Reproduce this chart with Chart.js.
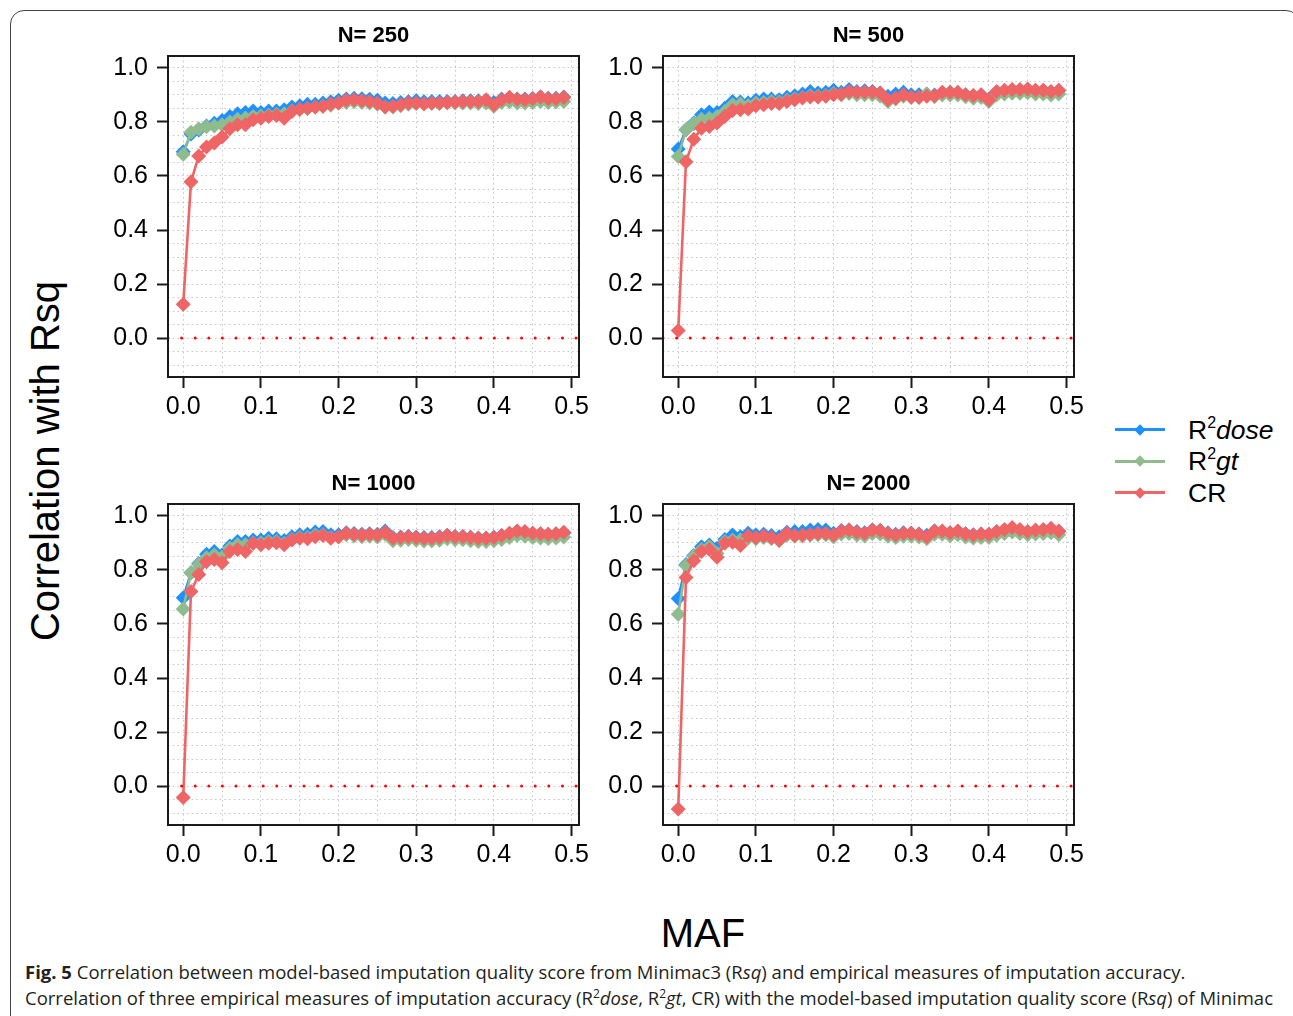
<!DOCTYPE html>
<html>
<head>
<meta charset="utf-8">
<title>Fig. 5</title>
<script src="https://cdn.jsdelivr.net/npm/chart.js@4.4.1/dist/chart.umd.min.js"></script>
<style>
  body { margin: 0; width: 1293px; height: 1016px; overflow: hidden; position: relative; background: #fff;
         font-family: "Liberation Sans", Arial, Helvetica, sans-serif; color: #000; }
  .marco { position: absolute; left: 10px; top: 10px; width: 1290px; height: 1100px;
           border: 1.5px solid #444; border-radius: 14px; box-sizing: border-box; }
  canvas.panel { position: absolute; }
  .eje-y { position: absolute; left: 45px; top: 461px; font-size: 40px; white-space: nowrap;
           transform: translate(-50%, -50%) rotate(-90deg); }
  .eje-x { position: absolute; left: 703px; top: 933px; font-size: 40px; transform: translate(-50%, -50%); }
  .leyenda { position: absolute; left: 1115px; top: 414px; }
  .item { display: flex; align-items: center; height: 31.5px; }
  .muestra { position: relative; width: 50px; height: 3px; margin-right: 23px; }
  .muestra::after { content: ""; position: absolute; left: 21px; top: -2.5px; width: 8px; height: 8px;
                    background: inherit; transform: rotate(45deg); }
  .item span.txt { font-size: 26.5px; line-height: 26px; }
  .item sup { font-size: 16px; vertical-align: 11px; line-height: 0; }
  .pie { position: absolute; left: 25px; top: 959px; width: 1268px; font-family: "Open Sans", sans-serif;
         font-size: 18.5px; line-height: 26px; color: #231f20; white-space: nowrap; }
  .pie sup { font-size: 12px; line-height: 0; vertical-align: 7px; }
</style>
</head>
<body>
<div class="marco"></div>

<canvas id="p250"  class="panel" width="500" height="400" style="left:100px; top:20px;"></canvas>
<canvas id="p500"  class="panel" width="500" height="400" style="left:595px; top:20px;"></canvas>
<canvas id="p1000" class="panel" width="500" height="400" style="left:100px; top:468px;"></canvas>
<canvas id="p2000" class="panel" width="500" height="400" style="left:595px; top:468px;"></canvas>

<div class="eje-y">Correlation with Rsq</div>
<div class="eje-x">MAF</div>

<div class="leyenda">
  <div class="item"><span class="muestra" style="background:#1E90FF"></span><span class="txt">R<sup>2</sup><i>dose</i></span></div>
  <div class="item"><span class="muestra" style="background:#8FBC8F"></span><span class="txt">R<sup>2</sup><i>gt</i></span></div>
  <div class="item"><span class="muestra" style="background:#EF6464"></span><span class="txt">CR</span></div>
</div>

<div class="pie">
  <b>Fig. 5</b> Correlation between model-based imputation quality score from Minimac3 (R<i>sq</i>) and empirical measures of imputation accuracy.<br>
  Correlation of three empirical measures of imputation accuracy (R<sup>2</sup><i>dose</i>, R<sup>2</sup><i>gt</i>, CR) with the model-based imputation quality score (R<i>sq</i>) of Minimac
</div>

<script>
// ---------- DATOS ----------
const MAF = [0.00, 0.01, 0.02, 0.03, 0.04, 0.05, 0.06, 0.07, 0.08, 0.09,
             0.10, 0.11, 0.12, 0.13, 0.14, 0.15, 0.16, 0.17, 0.18, 0.19,
             0.20, 0.21, 0.22, 0.23, 0.24, 0.25, 0.26, 0.27, 0.28, 0.29,
             0.30, 0.31, 0.32, 0.33, 0.34, 0.35, 0.36, 0.37, 0.38, 0.39,
             0.40, 0.41, 0.42, 0.43, 0.44, 0.45, 0.46, 0.47, 0.48, 0.49];

// N = 250
const dose250 = [0.690, 0.755, 0.770, 0.785, 0.795, 0.805, 0.820, 0.830, 0.835, 0.840,
                 0.835, 0.840, 0.840, 0.845, 0.855, 0.860, 0.865, 0.865, 0.870, 0.875,
                 0.880, 0.885, 0.888, 0.886, 0.884, 0.880, 0.870, 0.868, 0.872, 0.875,
                 0.878, 0.875, 0.876, 0.876, 0.876, 0.876, 0.878, 0.878, 0.878, 0.880,
                 0.872, 0.885, 0.888, 0.885, 0.885, 0.887, 0.892, 0.888, 0.888, 0.892];
const gt250   = [0.680, 0.762, 0.775, 0.782, 0.785, 0.790, 0.800, 0.810, 0.815, 0.820,
                 0.822, 0.825, 0.828, 0.830, 0.840, 0.845, 0.850, 0.855, 0.858, 0.862,
                 0.870, 0.872, 0.875, 0.872, 0.870, 0.865, 0.855, 0.855, 0.860, 0.865,
                 0.868, 0.866, 0.868, 0.868, 0.870, 0.870, 0.870, 0.870, 0.868, 0.870,
                 0.858, 0.872, 0.875, 0.870, 0.870, 0.872, 0.876, 0.872, 0.874, 0.876];
const cr250   = [0.125, 0.579, 0.674, 0.707, 0.722, 0.744, 0.775, 0.790, 0.790, 0.808,
                 0.814, 0.820, 0.824, 0.814, 0.839, 0.848, 0.851, 0.855, 0.858, 0.866,
                 0.870, 0.880, 0.882, 0.879, 0.876, 0.870, 0.855, 0.858, 0.864, 0.870,
                 0.870, 0.867, 0.870, 0.870, 0.873, 0.874, 0.876, 0.876, 0.876, 0.882,
                 0.864, 0.882, 0.891, 0.884, 0.882, 0.886, 0.892, 0.886, 0.886, 0.890];

// N = 500
const dose500 = [0.700, 0.771, 0.796, 0.827, 0.837, 0.835, 0.851, 0.876, 0.874, 0.870,
                 0.880, 0.885, 0.885, 0.882, 0.891, 0.897, 0.903, 0.913, 0.907, 0.910,
                 0.917, 0.910, 0.920, 0.913, 0.915, 0.913, 0.907, 0.895, 0.903, 0.910,
                 0.901, 0.901, 0.903, 0.900, 0.908, 0.908, 0.907, 0.900, 0.897, 0.900,
                 0.885, 0.910, 0.914, 0.917, 0.917, 0.920, 0.915, 0.915, 0.911, 0.915];
const gt500   = [0.672, 0.771, 0.793, 0.810, 0.814, 0.820, 0.839, 0.864, 0.866, 0.860,
                 0.870, 0.872, 0.876, 0.874, 0.880, 0.886, 0.890, 0.897, 0.895, 0.898,
                 0.905, 0.900, 0.905, 0.901, 0.901, 0.901, 0.895, 0.876, 0.885, 0.895,
                 0.890, 0.890, 0.903, 0.893, 0.900, 0.900, 0.900, 0.893, 0.888, 0.890,
                 0.876, 0.900, 0.903, 0.906, 0.906, 0.908, 0.903, 0.903, 0.900, 0.903];
const cr500   = [0.028, 0.653, 0.736, 0.777, 0.783, 0.796, 0.820, 0.842, 0.845, 0.848,
                 0.860, 0.864, 0.868, 0.868, 0.876, 0.882, 0.889, 0.892, 0.892, 0.895,
                 0.901, 0.903, 0.913, 0.910, 0.911, 0.911, 0.907, 0.882, 0.889, 0.901,
                 0.892, 0.891, 0.895, 0.897, 0.910, 0.910, 0.910, 0.901, 0.898, 0.901,
                 0.882, 0.913, 0.917, 0.920, 0.920, 0.922, 0.917, 0.917, 0.913, 0.917];

// N = 1000
const dose1000 = [0.697, 0.790, 0.824, 0.858, 0.868, 0.855, 0.889, 0.905, 0.905, 0.911,
                  0.911, 0.917, 0.915, 0.909, 0.923, 0.930, 0.932, 0.940, 0.942, 0.930,
                  0.930, 0.938, 0.935, 0.932, 0.934, 0.932, 0.944, 0.920, 0.922, 0.925,
                  0.922, 0.920, 0.920, 0.923, 0.928, 0.924, 0.924, 0.921, 0.918, 0.918,
                  0.921, 0.927, 0.935, 0.942, 0.940, 0.935, 0.933, 0.931, 0.933, 0.937];
const gt1000   = [0.655, 0.790, 0.820, 0.845, 0.855, 0.847, 0.880, 0.893, 0.893, 0.900,
                  0.900, 0.905, 0.905, 0.898, 0.913, 0.920, 0.920, 0.928, 0.930, 0.920,
                  0.922, 0.930, 0.926, 0.923, 0.925, 0.922, 0.932, 0.908, 0.910, 0.913,
                  0.910, 0.907, 0.907, 0.910, 0.915, 0.912, 0.912, 0.908, 0.905, 0.905,
                  0.908, 0.913, 0.920, 0.927, 0.925, 0.920, 0.918, 0.916, 0.918, 0.922];
const cr1000   = [-0.042, 0.720, 0.783, 0.830, 0.839, 0.827, 0.868, 0.876, 0.868, 0.899,
                  0.893, 0.899, 0.901, 0.893, 0.911, 0.917, 0.915, 0.923, 0.927, 0.917,
                  0.923, 0.936, 0.932, 0.929, 0.932, 0.929, 0.939, 0.917, 0.920, 0.923,
                  0.920, 0.917, 0.917, 0.921, 0.927, 0.923, 0.923, 0.920, 0.917, 0.917,
                  0.920, 0.927, 0.936, 0.944, 0.942, 0.936, 0.934, 0.932, 0.934, 0.939];

// N = 2000
const dose2000 = [0.694, 0.820, 0.853, 0.886, 0.892, 0.880, 0.913, 0.929, 0.923, 0.936,
                  0.929, 0.932, 0.927, 0.923, 0.939, 0.942, 0.942, 0.948, 0.950, 0.948,
                  0.936, 0.946, 0.948, 0.942, 0.938, 0.948, 0.946, 0.938, 0.932, 0.938,
                  0.936, 0.933, 0.928, 0.944, 0.942, 0.938, 0.942, 0.934, 0.930, 0.933,
                  0.932, 0.940, 0.946, 0.952, 0.946, 0.940, 0.944, 0.946, 0.950, 0.942];
const gt2000   = [0.636, 0.816, 0.851, 0.876, 0.886, 0.861, 0.905, 0.911, 0.911, 0.917,
                  0.915, 0.920, 0.915, 0.908, 0.928, 0.925, 0.926, 0.928, 0.930, 0.930,
                  0.922, 0.933, 0.935, 0.928, 0.926, 0.935, 0.933, 0.925, 0.920, 0.925,
                  0.925, 0.922, 0.915, 0.932, 0.932, 0.926, 0.930, 0.922, 0.918, 0.920,
                  0.920, 0.928, 0.935, 0.940, 0.935, 0.930, 0.933, 0.935, 0.938, 0.930];
const cr2000   = [-0.085, 0.772, 0.834, 0.868, 0.876, 0.847, 0.899, 0.902, 0.890, 0.926,
                  0.920, 0.926, 0.920, 0.911, 0.936, 0.927, 0.929, 0.932, 0.936, 0.936,
                  0.929, 0.944, 0.948, 0.939, 0.936, 0.948, 0.946, 0.936, 0.929, 0.936,
                  0.936, 0.932, 0.923, 0.944, 0.944, 0.938, 0.944, 0.933, 0.929, 0.933,
                  0.932, 0.942, 0.950, 0.957, 0.950, 0.942, 0.948, 0.950, 0.954, 0.944];

// ejes
const X_TICKS = [0.0, 0.1, 0.2, 0.3, 0.4, 0.5];
const Y_TICKS = [0.0, 0.2, 0.4, 0.6, 0.8, 1.0];
const X_GRID  = [0, 0.05, 0.1, 0.15, 0.2, 0.25, 0.3, 0.35, 0.4, 0.45, 0.5];
const Y_GRID  = [-0.1, -0.05, 0, 0.05, 0.1, 0.15, 0.2, 0.25, 0.3, 0.35, 0.4, 0.45,
                 0.5, 0.55, 0.6, 0.65, 0.7, 0.75, 0.8, 0.85, 0.9, 0.95, 1.0];
const X_LIM = [-0.0196, 0.5096];
const Y_LIM = [-0.144, 1.044];
const LINEA_REF = 0;   // línea punteada roja

const PANELES = [
  { id: "p250",  titulo: "N= 250",  dose: dose250,  gt: gt250,  cr: cr250 },
  { id: "p500",  titulo: "N= 500",  dose: dose500,  gt: gt500,  cr: cr500 },
  { id: "p1000", titulo: "N= 1000", dose: dose1000, gt: gt1000, cr: cr1000 },
  { id: "p2000", titulo: "N= 2000", dose: dose2000, gt: gt2000, cr: cr2000 }
];

const COLORES = { dose: "#1E90FF", gt: "#8FBC8F", cr: "#EF6464" };
const FUENTE = "'Liberation Sans', Arial, Helvetica, sans-serif";

// ---------- AYUDAS ----------
const esMarca = (v, lista) => lista.some(t => Math.abs(t - v) < 1e-9);

// caja negra alrededor del área de datos
const marcoPlugin = {
  id: "marco",
  afterDatasetsDraw(chart) {
    const { ctx, chartArea: a } = chart;
    ctx.save();
    ctx.strokeStyle = "#1a1a1a";
    ctx.lineWidth = 2;
    ctx.strokeRect(a.left, a.top, a.right - a.left, a.bottom - a.top);
    ctx.restore();
  }
};

// orden: el menor se dibuja encima (CR arriba, como en la figura)
function serie(label, datos, color, orden) {
  return {
    label,
    order: orden,
    data: MAF.map((m, i) => ({ x: m, y: datos[i] })),
    borderColor: color,
    backgroundColor: color,
    borderWidth: 2.6,
    pointStyle: "rectRot",
    pointRadius: 7.5,
    pointBorderWidth: 0,
    pointBackgroundColor: color,
    tension: 0
  };
}

function escala(lim, grid, marcas, eje) {
  return {
    type: "linear",
    min: lim[0],
    max: lim[1],
    afterBuildTicks: s => { s.ticks = grid.map(v => ({ value: v })); },
    afterFit: s => { if (eje === "x") s.height = 43; else s.width = 68; },
    ticks: {
      autoSkip: false,
      maxRotation: 0,
      color: "#000",
      padding: eje === "x" ? 4 : 9,
      font: { family: FUENTE, size: 25 },
      callback: v => esMarca(v, marcas) ? v.toFixed(1) : ""
    },
    grid: {
      color: "#c4c4c4",
      lineWidth: 1,
      tickLength: 11,
      tickWidth: 2,
      tickColor: c => (c.tick && esMarca(c.tick.value, marcas)) ? "#1a1a1a" : "rgba(0,0,0,0)"
    },
    border: { display: false, dash: [1.5, 3.2] }
  };
}

function crearPanel(p) {
  const ctx = document.getElementById(p.id).getContext("2d");
  return new Chart(ctx, {
    type: "line",
    data: {
      datasets: [
        serie("R2dose", p.dose, COLORES.dose, 3),
        serie("R2gt",   p.gt,   COLORES.gt,   2),
        serie("CR",     p.cr,   COLORES.cr,   1),
        {
          label: "ref",
          order: 0,
          data: [{ x: X_LIM[0], y: LINEA_REF }, { x: X_LIM[1], y: LINEA_REF }],
          borderColor: "#ff0000",
          borderWidth: 3,
          borderDash: [0, 13.6],
          borderCapStyle: "round",
          pointRadius: 0
        }
      ]
    },
    options: {
      responsive: false,
      animation: false,
      layout: { padding: { left: 0, top: 0, right: 21, bottom: 0 } },
      plugins: {
        legend: { display: false },
        tooltip: { enabled: false },
        title: {
          display: true,
          text: p.titulo,
          fullSize: false,
          color: "#000",
          font: { family: FUENTE, size: 22, weight: "bold" },
          padding: { top: 3, bottom: 6.6 }
        }
      },
      scales: {
        x: escala(X_LIM, X_GRID, X_TICKS, "x"),
        y: escala(Y_LIM, Y_GRID, Y_TICKS, "y")
      }
    },
    plugins: [marcoPlugin]
  });
}

PANELES.forEach(crearPanel);
</script>
</body>
</html>
